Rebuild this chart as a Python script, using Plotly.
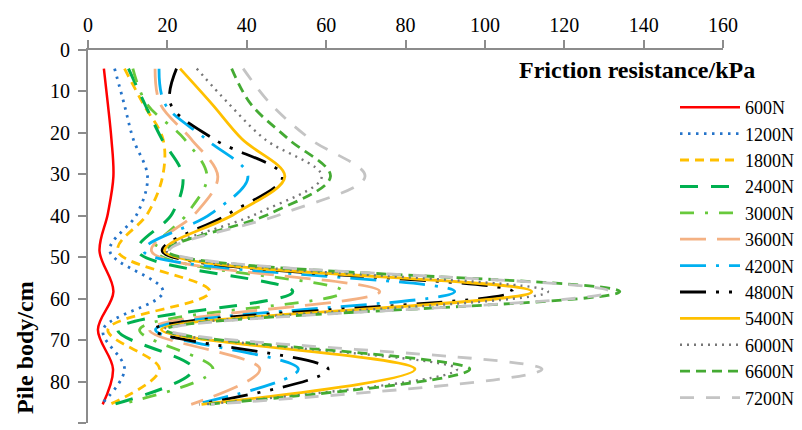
import plotly.graph_objects as go

# Depth along the pile (cm) at which friction was evaluated
depth_cm = [4.5, 13, 21.5, 30.5, 39.5, 48.5, 58.3, 67.5, 77, 85.5]

# Friction resistance (kPa) for each pile-head load
f_600 = [4.0, 5.0, 5.9, 6.4, 5.0, 2.9, 6.4, 2.5, 6.3, 3.7]
f_1200 = [6.7, 9.1, 11.4, 15.0, 12.4, 5.5, 18.9, 3.8, 9.2, 3.3]
f_1800 = [9.2, 13.9, 18.9, 18.8, 15.0, 7.5, 30.7, 5.0, 18.0, 5.5]
f_2400 = [10.2, 14.3, 18.6, 23.9, 21.2, 12.5, 51.6, 7.5, 26.5, 6.5]
f_3000 = [11.3, 14.8, 24.3, 30.0, 25.0, 17.0, 64.2, 13.0, 31.5, 8.0]
f_3600 = [16.9, 18.2, 26.0, 32.7, 27.0, 16.0, 73.5, 15.5, 43.3, 26.0]
f_4200 = [17.9, 19.4, 29.7, 40.3, 31.0, 14.0, 92.4, 17.0, 53.0, 27.0]
f_4800 = [22.3, 20.8, 31.7, 49.0, 35.5, 18.7, 107.0, 16.5, 60.5, 28.0]
f_5400 = [23.2, 31.2, 38.8, 49.6, 37.0, 19.3, 111.8, 18.5, 82.4, 28.6]
f_6000 = [27.4, 35.5, 44.5, 58.9, 42.5, 19.8, 115.9, 19.0, 93.0, 29.5]
f_6600 = [36.2, 41.0, 50.5, 61.1, 45.8, 20.0, 134.0, 19.5, 96.2, 30.0]
f_7200 = [39.1, 46.0, 56.0, 69.8, 49.0, 20.5, 131.5, 20.0, 114.4, 31.0]

load_labels = ["600N", "1200N", "1800N", "2400N", "3000N", "3600N",
               "4200N", "4800N", "5400N", "6000N", "6600N", "7200N"]
series = [f_600, f_1200, f_1800, f_2400, f_3000, f_3600,
          f_4200, f_4800, f_5400, f_6000, f_6600, f_7200]

x_ticks = [0, 20, 40, 60, 80, 100, 120, 140, 160]
y_ticks = [0, 10, 20, 30, 40, 50, 60, 70, 80, 90]

# Line style per load: (colour, dash pattern, width)
styles = [
    ("#FF0000", "solid", 2.5),
    ("#2473C9", "2.5px,5.5px", 2.8),
    ("#FFC000", "9px,6px", 2.8),
    ("#00B050", "18px,13px", 3.0),
    ("#68C93C", "14px,11px,3px,11px", 2.8),
    ("#F4B183", "26px,11px", 2.8),
    ("#00B0F0", "26px,10px,3px,10px", 2.8),
    ("#000000", "26px,10px,3px,10px,3px,10px", 2.8),
    ("#FFC000", "solid", 2.8),
    ("#777777", "2px,5px", 2.4),
    ("#44AA33", "10px,6px", 2.8),
    ("#C4C4C4", "14px,12px", 2.8),
]

SERIF = "Liberation Serif"

fig = go.Figure()
for label, vals, (color, dash, width) in zip(load_labels, series, styles):
    fig.add_trace(go.Scatter(
        x=vals, y=depth_cm, mode="lines", name=label,
        line=dict(color=color, dash=dash, width=width, shape="spline", smoothing=1.0),
    ))

axis_gray = "#8C8C8C"
fig.update_layout(
    width=802, height=430,
    margin=dict(l=88, r=79, t=50, b=7, autoexpand=False),
    paper_bgcolor="white", plot_bgcolor="white",
    font=dict(family=SERIF, size=20, color="#000000"),
    showlegend=True,
    legend=dict(
        x=(675 - 88) / 635, y=(423 - 89) / 373, xanchor="left", yanchor="top",
        bgcolor="rgba(0,0,0,0)", borderwidth=0,
        font=dict(family=SERIF, size=18, color="#000000"),
        tracegroupgap=0, maxheight=400, itemwidth=60,
    ),
    xaxis=dict(
        side="top", range=[0, 160], tickvals=x_ticks,
        showline=True, linecolor=axis_gray, linewidth=2,
        ticks="outside", ticklen=8, tickwidth=2, tickcolor=axis_gray,
        showgrid=False, zeroline=False,
        tickfont=dict(family=SERIF, size=20, color="#000000"),
    ),
    yaxis=dict(
        range=[90, 0], tickvals=y_ticks,
        showline=True, linecolor=axis_gray, linewidth=2,
        ticks="outside", ticklen=8, tickwidth=2, tickcolor=axis_gray,
        showgrid=False, zeroline=False,
        tickfont=dict(family=SERIF, size=20, color="#000000"),
        ticklabelstandoff=4,
    ),
    annotations=[
        dict(text="<b>Friction resistance/kPa</b>", xref="paper", yref="paper",
             x=(637 - 88) / 635, y=(423 - 70) / 373, xanchor="center", yanchor="middle",
             showarrow=False, font=dict(family=SERIF, size=24, color="#000000")),
        dict(text="<b>Pile body/cm</b>", xref="paper", yref="paper",
             x=(25 - 88) / 635, y=(423 - 348) / 373, xanchor="center", yanchor="middle",
             textangle=-90, showarrow=False,
             font=dict(family=SERIF, size=24, color="#000000")),
    ],
)

fig.write_html("out.html")
